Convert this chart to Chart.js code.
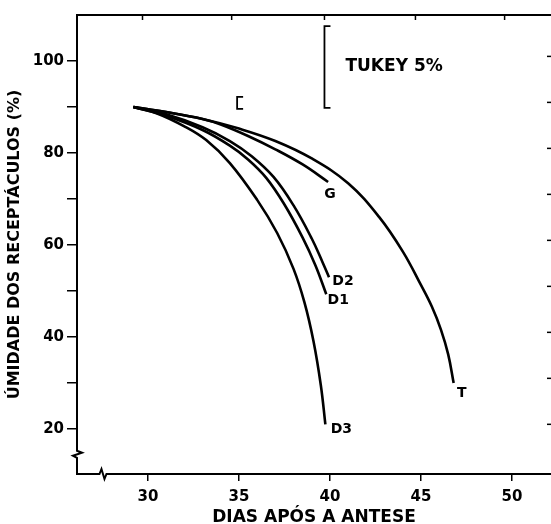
<!DOCTYPE html>
<html lang="pt">
<head>
  <meta charset="UTF-8">
  <title>Umidade dos receptáculos</title>
  <style>
    html, body { margin: 0; padding: 0; background: #fff; }
    #caixa { width: 551px; height: 524px; }
  </style>
</head>
<body>
  <div id="caixa"><canvas id="grafico"></canvas></div>
  <script src="https://cdn.jsdelivr.net/npm/chart.js"></script>
  <script>
    // valores (dias após a antese / umidade %)
    const diasT  = [29.2, 31, 33, 35, 37, 39, 41, 42.7, 44, 45, 45.6, 46.1, 46.5, 46.8];
    const umidT  = [90, 88.9, 87.4, 85.3, 82.6, 78.8, 73.4, 66.1, 58.6, 51.3, 46.6, 41.6, 36.2, 30];
    const diasG  = [29.2, 31, 33, 34, 35.5, 37, 38.5, 39.9];
    const umidG  = [90, 88.9, 87.4, 86.2, 83.7, 80.8, 77.5, 73.7];
    const diasD2 = [29.2, 31, 33, 34.5, 35.7, 36.9, 38, 39, 39.6, 39.95];
    const umidD2 = [90, 88.4, 85.6, 82.6, 79.3, 74.8, 68.6, 61.4, 56.2, 53];
    const diasD1 = [29.2, 31, 33, 34.5, 35.5, 36.5, 37.5, 38.5, 39.2, 39.8];
    const umidD1 = [90, 88.1, 85, 81.6, 78.6, 74.6, 68.8, 61.6, 55.6, 49.3];
    const diasD3 = [29.2, 30.5, 32, 33.2, 34.5, 36, 37.1, 38, 38.6, 39.1, 39.5, 39.75];
    const umidD3 = [90, 88.6, 85.8, 82.8, 77.8, 69.8, 62.6, 54.8, 47.5, 39, 29.5, 21];

    const nomes = ['T', 'G', 'D2', 'D1', 'D3'];
    const xTicks = [30, 35, 40, 45, 50];
    const yTicks = [20, 30, 40, 50, 60, 70, 80, 90, 100];
    const topoTicks = [29.7, 34.6, 39.7, 44.7, 49.6];
    const direitaTicks = [21, 31, 41, 51, 61, 71, 81, 91, 101];
    // barras de Tukey: [dia, umid. inferior, umid. superior]
    const tukeyPequena = [34.9, 89.6, 92.2];
    const tukeyGrande  = [39.7, 89.8, 107.6];

    // deslocamento (px) do rótulo em relação ao fim de cada curva
    const desloc = { T: [8, 10], G: [2, 12], D2: [14, 4], D1: [12, 6], D3: [16, 5] };

    const series = [[diasT, umidT], [diasG, umidG], [diasD2, umidD2], [diasD1, umidD1], [diasD3, umidD3]];
    const fonte = "'DejaVu Sans', sans-serif";
    Chart.defaults.font.family = fonte;
    Chart.defaults.color = '#000';

    const extras = {
      id: 'extras',
      afterDatasetsDraw(chart) {
        const { ctx, chartArea: a, scales: { x, y } } = chart;
        ctx.save();
        ctx.strokeStyle = '#000';
        ctx.fillStyle = '#000';

        // borda superior com marcas
        ctx.lineWidth = 2;
        ctx.beginPath(); ctx.moveTo(a.left, a.top); ctx.lineTo(a.right, a.top); ctx.stroke();
        ctx.lineWidth = 1.5;
        topoTicks.forEach(v => {
          const px = x.getPixelForValue(v);
          ctx.beginPath(); ctx.moveTo(px, a.top); ctx.lineTo(px, a.top + 5); ctx.stroke();
        });
        // marcas do eixo vizinho (direita)
        direitaTicks.forEach(v => {
          const py = y.getPixelForValue(v);
          ctx.beginPath(); ctx.moveTo(a.right - 4, py); ctx.lineTo(a.right, py); ctx.stroke();
        });

        // colchetes de Tukey
        ctx.lineWidth = 1.8;
        [tukeyPequena, tukeyGrande].forEach(b => {
          const px = x.getPixelForValue(b[0]);
          const y0 = y.getPixelForValue(b[1]);
          const y1 = y.getPixelForValue(b[2]);
          ctx.beginPath();
          ctx.moveTo(px + 6, y1); ctx.lineTo(px, y1); ctx.lineTo(px, y0); ctx.lineTo(px + 6, y0);
          ctx.stroke();
        });
        ctx.font = 'bold 17px ' + fonte;
        ctx.textAlign = 'left';
        ctx.textBaseline = 'middle';
        ctx.fillText('TUKEY 5%', x.getPixelForValue(tukeyGrande[0]) + 21,
          y.getPixelForValue((tukeyGrande[1] + tukeyGrande[2]) / 2));

        // rótulos das curvas
        ctx.font = 'bold 14px ' + fonte;
        ctx.textAlign = 'center';
        series.forEach((s, i) => {
          const n = s[0].length - 1;
          const d = desloc[nomes[i]];
          ctx.fillText(nomes[i], x.getPixelForValue(s[0][n]) + d[0], y.getPixelForValue(s[1][n]) + d[1]);
        });

        // quebras dos eixos
        const by = y.getPixelForValue(14.6);
        ctx.fillStyle = '#fff';
        ctx.fillRect(a.left - 3, by - 6, 6, 12);
        ctx.lineWidth = 2;
        ctx.beginPath();
        ctx.moveTo(a.left, by - 7); ctx.lineTo(a.left, by - 3); ctx.lineTo(a.left + 5, by - 1);
        ctx.lineTo(a.left - 4, by + 2); ctx.lineTo(a.left, by + 4); ctx.lineTo(a.left, by + 7);
        ctx.stroke();
        const bx = x.getPixelForValue(27.5);
        ctx.fillRect(bx - 6, a.bottom - 3, 12, 6);
        ctx.beginPath();
        ctx.moveTo(bx - 7, a.bottom); ctx.lineTo(bx - 3, a.bottom); ctx.lineTo(bx - 1, a.bottom - 5);
        ctx.lineTo(bx + 2, a.bottom + 5); ctx.lineTo(bx + 4, a.bottom); ctx.lineTo(bx + 7, a.bottom);
        ctx.stroke();
        ctx.restore();
      }
    };

    new Chart(document.getElementById('grafico'), {
      type: 'line',
      data: {
        datasets: series.map((s, i) => ({
          label: nomes[i],
          data: s[0].map((d, j) => ({ x: d, y: s[1][j] })),
          borderColor: '#000',
          borderWidth: 2.6,
          pointRadius: 0,
          fill: false,
          tension: 0.4
        }))
      },
      options: {
        responsive: true,
        maintainAspectRatio: false,
        animation: false,
        layout: { padding: { top: 15, right: 0, left: 0, bottom: 0 } },
        plugins: { legend: { display: false }, tooltip: { enabled: false } },
        scales: {
          x: {
            type: 'linear',
            min: 26.1,
            max: 52.15,
            afterBuildTicks: s => { s.ticks = xTicks.map(v => ({ value: v })); },
            afterFit: s => { s.height = 50; },
            grid: { drawOnChartArea: false, drawTicks: true, tickLength: 7, color: '#000', lineWidth: 1.5 },
            border: { display: true, color: '#000', width: 2 },
            ticks: { autoSkip: false, maxRotation: 0, padding: 7, font: { size: 15, weight: 'bold' } },
            title: {
              display: true,
              text: 'DIAS APÓS A ANTESE',
              padding: 0,
              font: { size: 17, weight: 'bold', lineHeight: 0.8 }
            }
          },
          y: {
            min: 10.2,
            max: 110,
            afterBuildTicks: s => { s.ticks = yTicks.map(v => ({ value: v })); },
            afterFit: s => { s.width = 77; },
            grid: { drawOnChartArea: false, drawTicks: true, tickLength: 10, color: '#000', lineWidth: 1.5 },
            border: { display: true, color: '#000', width: 2 },
            ticks: {
              autoSkip: false,
              padding: 3,
              font: { size: 15, weight: 'bold' },
              callback: v => (v % 20 === 0 ? String(v) : '')
            },
            title: {
              display: true,
              text: 'ÚMIDADE DOS RECEPTÁCULOS (%)',
              align: 'center',
              padding: { top: 5, bottom: 0 },
              font: { size: 16, weight: 'bold' }
            }
          }
        }
      },
      plugins: [extras]
    });
  </script>
</body>
</html>
